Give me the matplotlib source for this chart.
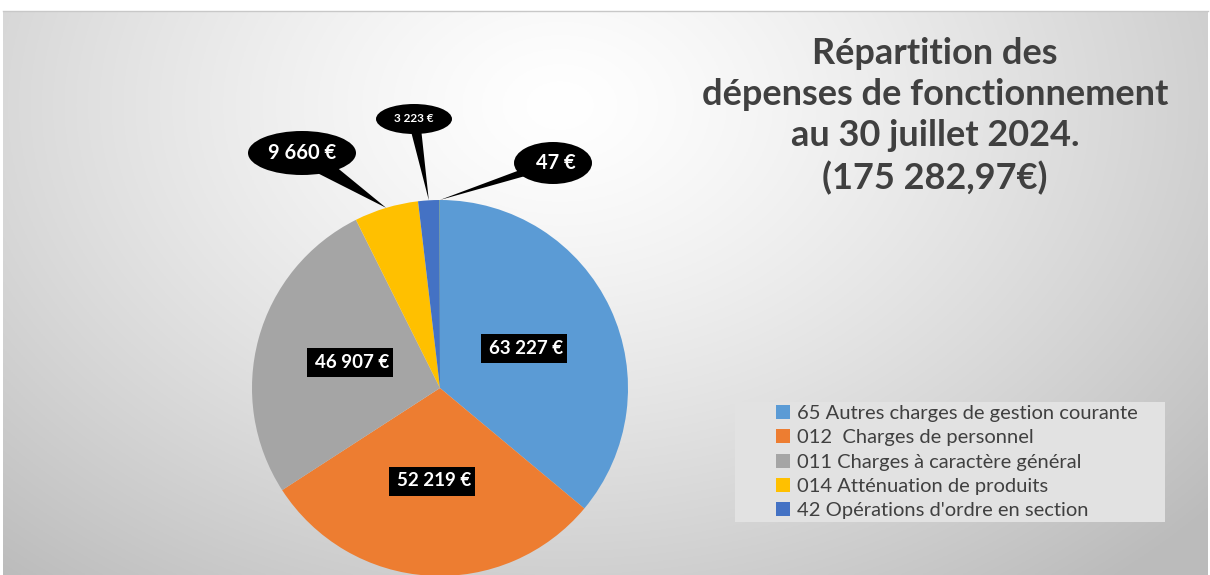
import numpy as np
import matplotlib
matplotlib.use("Agg")
import matplotlib.pyplot as plt
from matplotlib.patches import Ellipse, Polygon, Rectangle

# ---- data ----
categories = ["65 Autres charges de gestion courante",
              "012  Charges de personnel",
              "011 Charges à caractère général",
              "014 Atténuation de produits",
              "42 Opérations d'ordre en section",
              "Autre"]
values = [63227, 52219, 46907, 9660, 3223, 47]
value_labels = ["63 227 €", "52 219 €", "46 907 €", "9 660 €", "3 223 €", "47 €"]
colors = ["#5B9BD5", "#ED7D31", "#A5A5A5", "#FFC000", "#4472C4", "#70AD47"]
title = "Répartition des\ndépenses de fonctionnement\nau 30 juillet 2024.\n(175 282,97€)"

W, H = 1210, 575
fig = plt.figure(figsize=(W / 100, H / 100), dpi=100, facecolor="white")
ax = fig.add_axes([0, 0, 1, 1])
ax.set_xlim(0, W)
ax.set_ylim(0, H)
ax.axis("off")

# ---- background radial gradient ----
gx0, gx1, gy0, gy1 = 3, 1208, 0, 564
xs = np.linspace(gx0, gx1, 600)
ys = np.linspace(gy0, gy1, 300)
X, Y = np.meshgrid(xs, ys)
cx, cy = 560, 470
d = np.sqrt(((X - cx) / 720) ** 2 + ((Y - cy) / 520) ** 2)
g = 1.0 - 0.21 * np.clip(d, 0, 1.2) ** 1.3
img = np.dstack([g, g, g])
ax.imshow(img, extent=(gx0, gx1, gy0, gy1), origin="lower", aspect="auto", zorder=0)
ax.plot([gx0, gx1], [gy1, gy1], color="#c8c8c8", lw=1, zorder=1)

# ---- pie ----
pcx, pcy, R = 440, 575 - 388, 188
wedges, _ = ax.pie(values, colors=colors, startangle=90, counterclock=False,
                   center=(pcx, pcy), radius=R, frame=True,
                   wedgeprops=dict(linewidth=0, zorder=3))
ax.set_xlim(0, W)
ax.set_ylim(0, H)
ax.set_aspect("equal")
ax.axis("off")

def mid_point(w, r):
    a = np.deg2rad((w.theta1 + w.theta2) / 2)
    return pcx + r * np.cos(a), pcy + r * np.sin(a)

# inside labels (layout positions): box centre, text centre
inside_pos = {0: ((524, 575 - 348), (526, 575 - 348)),
              1: ((432, 575 - 481), (434, 575 - 481)),
              2: ((350, 575 - 362), (352, 575 - 362))}
for i, ((bx, by), (tx, ty)) in inside_pos.items():
    ax.add_patch(Rectangle((bx - 43, by - 14.5), 86, 29, fc="black", ec="none", zorder=5))
    ax.text(tx, ty, value_labels[i], color="white", fontsize=13.5, fontweight="bold",
            family="Lato", ha="center", va="center", zorder=6)

# callouts
callouts = {3: ((302, 575 - 153), 108, 44, 14.5, 11),
            4: ((414, 575 - 119), 76, 30, 8.5, 6),
            5: ((553, 575 - 163), 78, 42, 14.5, 5)}
for i, ((ex, ey), ew, eh, fs, half) in callouts.items():
    px, py = mid_point(wedges[i], R)
    vx, vy = ex - px, ey - py
    n = np.hypot(vx, vy)
    nx, ny = -vy / n, vx / n
    tri = Polygon([(px, py), (ex + nx * half, ey + ny * half), (ex - nx * half, ey - ny * half)],
                  closed=True, fc="black", ec="none", zorder=5)
    ax.add_patch(tri)
    ax.add_patch(Ellipse((ex, ey), ew, eh, fc="black", ec="none", zorder=5))
    ax.text(ex + (3 if i == 5 else 0), ey, value_labels[i], color="white", fontsize=fs,
            fontweight="bold", family="Lato", ha="center", va="center", zorder=6)

# title
ax.text(935, 575 - 116, title, ha="center", va="center", fontsize=26,
        fontweight="bold", family="Lato", color="#404040", linespacing=1.3, zorder=6)

# legend box + legend
ax.add_patch(Rectangle((735, 575 - 522), 430, 120, fc="#e2e2e2", ec="none", zorder=4))
leg = ax.legend(wedges[:5], categories[:5], loc="upper left",
                bbox_to_anchor=(776 / W, 1 - 405 / H), bbox_transform=fig.transFigure,
                frameon=False, borderpad=0.0, labelspacing=0.36,
                handlelength=0.7, handleheight=0.7, handletextpad=0.35,
                borderaxespad=0, prop=dict(family="Lato", size=14.5))
for t in leg.get_texts():
    t.set_color("#404040")
leg.set_zorder(7)

fig.savefig("out.png", dpi=100, facecolor="white")
